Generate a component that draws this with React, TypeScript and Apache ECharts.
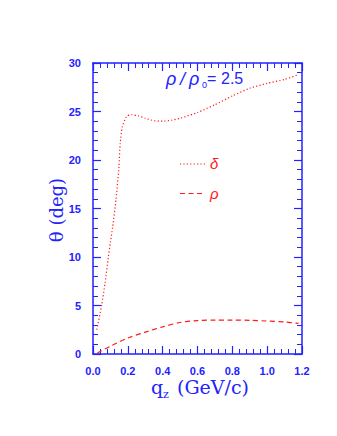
import React, { useEffect, useRef } from "react";
import * as echarts from "echarts";

const deltaQ = [0.022, 0.05, 0.07, 0.088, 0.1, 0.113, 0.132, 0.149, 0.156, 0.168, 0.193, 0.222, 0.26, 0.3, 0.35, 0.4, 0.45, 0.5, 0.6, 0.7, 0.8, 0.9, 1.0, 1.1, 1.18];
const deltaTheta = [2.5, 5.05, 7.4, 10.0, 11.5, 13.1, 15.9, 19.3, 21.7, 23.4, 24.5, 24.67, 24.55, 24.3, 24.05, 24.0, 24.1, 24.3, 24.9, 25.7, 26.6, 27.4, 27.9, 28.3, 28.8];

const rhoQ = [0.025, 0.1, 0.2, 0.3, 0.4, 0.5, 0.6, 0.7, 0.8, 0.9, 1.0, 1.1, 1.18];
const rhoTheta = [0.1, 0.8, 1.65, 2.25, 2.8, 3.25, 3.45, 3.5, 3.5, 3.47, 3.4, 3.3, 3.15];

const xTicks = { min: 0, max: 1.2, interval: 0.2 };
const yTicks = { min: 0, max: 30, interval: 5 };

const BLUE = "#2222ff";
const RED = "#ff1a1a";
const SANS = "Liberation Sans, Arial, sans-serif";
const SERIF = "DejaVu Serif, serif";

export default function App() {
  const ref = useRef<HTMLDivElement>(null);
  useEffect(() => {
    if (!ref.current) return;
    const chart = echarts.init(ref.current, undefined, { renderer: "svg" });
    const axisCommon = {
      type: "value" as const,
      splitLine: { show: false },
      axisLine: { show: true, onZero: false, lineStyle: { color: BLUE, width: 1.5 } },
      axisTick: { show: true, inside: true, length: 8, lineStyle: { color: BLUE, width: 1.2 } },
      minorTick: { show: true, splitNumber: 5, length: 5, lineStyle: { color: BLUE, width: 1 } },
      minorSplitLine: { show: false },
    };
    const labelStyle = {
      color: BLUE,
      fontFamily: SANS,
      fontSize: 11,
      fontWeight: "bold" as const,
      margin: 11,
    };
    chart.setOption({
      animation: false,
      grid: { left: 93, right: 35, top: 63, bottom: 82, containLabel: false },
      xAxis: [
        {
          ...axisCommon,
          position: "bottom",
          ...xTicks,
          axisLabel: { ...labelStyle, formatter: (v: number) => v.toFixed(1) },
        },
        {
          ...axisCommon,
          position: "top",
          ...xTicks,
          axisLabel: { show: false },
        },
      ],
      yAxis: [
        {
          ...axisCommon,
          position: "left",
          ...yTicks,
          axisLabel: { ...labelStyle, margin: 12 },
        },
        {
          ...axisCommon,
          position: "right",
          ...yTicks,
          axisLabel: { show: false },
        },
      ],
      series: [
        {
          type: "line",
          name: "δ",
          data: deltaQ.map((q, i) => [q, deltaTheta[i]]),
          showSymbol: false,
          smooth: 0.2,
          lineStyle: { color: RED, width: 1.2, type: [1.2, 2.2] },
          silent: true,
        },
        {
          type: "line",
          name: "ρ",
          data: rhoQ.map((q, i) => [q, rhoTheta[i]]),
          showSymbol: false,
          smooth: 0.3,
          lineStyle: { color: RED, width: 1.2, type: [5, 3.5] },
          silent: true,
        },
      ],
      graphic: [
        // density annotation
        { type: "text", left: 166, top: 70, style: { text: "ρ", fill: BLUE, fontSize: 18, fontStyle: "italic", fontFamily: SANS } },
        { type: "text", left: 180, top: 70, style: { text: "/", fill: BLUE, fontSize: 18, fontStyle: "italic", fontFamily: SANS } },
        { type: "text", left: 189, top: 70, style: { text: "ρ", fill: BLUE, fontSize: 18, fontStyle: "italic", fontFamily: SANS } },
        { type: "text", left: 202, top: 80, style: { text: "0", fill: BLUE, fontSize: 9, fontFamily: SANS } },
        { type: "text", left: 207, top: 70, style: { text: "=", fill: BLUE, fontSize: 16, fontFamily: SANS } },
        { type: "text", left: 221, top: 70, style: { text: "2.5", fill: BLUE, fontSize: 16, fontFamily: SANS } },
        // legend
        {
          type: "line",
          shape: { x1: 180, y1: 164, x2: 205, y2: 164 },
          style: { stroke: RED, lineWidth: 1.2, lineDash: [1.2, 2.2] },
        },
        {
          type: "text",
          left: 210,
          top: 156,
          style: { text: "δ", fill: RED, fontSize: 15, fontStyle: "italic", fontFamily: SANS },
        },
        {
          type: "line",
          shape: { x1: 180, y1: 193.5, x2: 205, y2: 193.5 },
          style: { stroke: RED, lineWidth: 1.2, lineDash: [5, 3.5] },
        },
        {
          type: "text",
          left: 210,
          top: 186,
          style: { text: "ρ", fill: RED, fontSize: 15, fontStyle: "italic", fontFamily: SANS },
        },
        // x axis name
        { type: "text", left: 151, top: 377, style: { text: "q", fill: BLUE, fontSize: 19, fontFamily: SERIF } },
        { type: "text", left: 163, top: 389, style: { text: "z", fill: BLUE, fontSize: 11, fontFamily: SERIF } },
        { type: "text", left: 177, top: 377, style: { text: "(GeV/c)", fill: BLUE, fontSize: 19, fontFamily: SERIF } },
        // y axis name
        {
          type: "text",
          x: 56,
          y: 210,
          rotation: Math.PI / 2,
          style: {
            text: "θ (deg)",
            fill: BLUE,
            fontSize: 18,
            fontFamily: SERIF,
            align: "center",
            verticalAlign: "middle",
          },
        },
      ],
    });
    return () => chart.dispose();
  }, []);
  return (
    <div
      ref={ref}
      style={{ position: "fixed", left: 0, top: 0, width: 337, height: 436, background: "#fff" }}
    />
  );
}
